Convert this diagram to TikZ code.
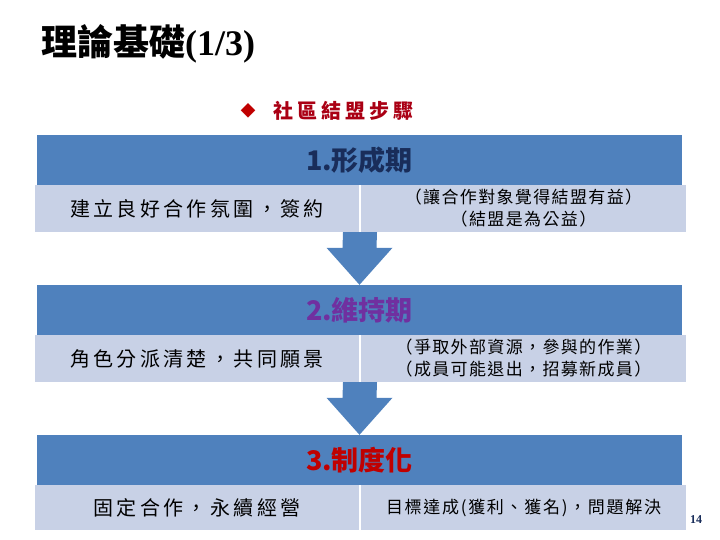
\documentclass[tikz,border=0pt]{standalone}
\usepackage{fontspec}
\usepackage{tikz}
\usetikzlibrary{calc}
\setmainfont{Liberation Serif}
\newfontfamily\cjk{Noto Sans CJK TC}
\definecolor{headBlue}{RGB}{79, 129, 189}
\definecolor{cellBlue}{RGB}{200, 209, 230}
\definecolor{stepNavy}{RGB}{25, 45, 90}
\definecolor{stepPurple}{RGB}{112, 48, 160}
\definecolor{stepRed}{RGB}{192, 0, 0}
\definecolor{subRed}{RGB}{170, 0, 20}

\begin{document}
\begin{tikzpicture}[x=1pt, y=-1pt,
    headbox/.style={fill=headBlue, minimum width=645pt, minimum height=50pt, inner sep=0pt,
      font=\cjk\bfseries\fontsize{27}{30}\selectfont},
    cellbox/.style={fill=cellBlue, minimum height=47pt, inner sep=0pt, align=center},
    bigtext/.style={font=\cjk\fontsize{20}{22}\selectfont\addfontfeature{LetterSpace=17}},
    smalltext/.style={font=\cjk\fontsize{17}{22}\selectfont\addfontfeature{LetterSpace=8}}]
  \useasboundingbox (0,0) rectangle (720,540);
  % Title
  \node[anchor=west, inner sep=0pt] (title) at (41,44)
    {\cjk\bfseries\fontsize{36}{40}\selectfont 理論基礎\rmfamily\bfseries(1/3)};
  \node[text=stepRed, inner sep=0pt, font=\cjk\fontsize{15}{15}\selectfont] (bullet) at (248,111) {◆};
  \node[anchor=west, inner sep=0pt, text=subRed, font=\cjk\bfseries\fontsize{20}{22}\selectfont\addfontfeature{LetterSpace=20}]
    (sub) at (273,111) {社區結盟步驟};

  % Step 1
  \node[headbox, text=stepNavy] (head1) at (359.5,160) {1.形成期};
  \node[cellbox, minimum width=324pt, bigtext] (left1) at (197,208.5) {建立良好合作氛圍，簽約};
  \node[cellbox, minimum width=325pt, smalltext] (right1) at (523.5,208.5)
    {（讓合作對象覺得結盟有益）\\（結盟是為公益）};

  % Step 2
  \node[headbox, text=stepPurple] (head2) at (359.5,310) {2.維持期};
  \node[cellbox, minimum width=324pt, bigtext] (left2) at (197,358.5) {角色分派清楚，共同願景};
  \node[cellbox, minimum width=325pt, smalltext] (right2) at (523.5,358.5)
    {（爭取外部資源，參與的作業）\\（成員可能退出，招募新成員）};

  % Step 3
  \node[headbox, text=stepRed] (head3) at (359.5,460) {3.制度化};
  \node[cellbox, minimum width=324pt, minimum height=45pt, bigtext] (left3) at (197,507.5) {固定合作，永續經營};
  \node[cellbox, minimum width=325pt, minimum height=45pt, smalltext] (right3) at (523.5,507.5)
    {\addfontfeature{LetterSpace=10}目標達成(獲利、獲名)，問題解決};

  % Block arrows
  \foreach \a/\b in {left1/head2, left2/head3} {
    \coordinate (top) at ($(\a.south east)!0.5!(\a.south east -| right1.south west)$);
    \fill[headBlue] ($(top)+(-17,0)$) -- ($(top)+(17,0)$) -- ($(\b.north)+(17,-37)$)
      -- ($(\b.north)+(33,-37)$) -- (\b.north) -- ($(\b.north)+(-33,-37)$)
      -- ($(\b.north)+(-17,-37)$) -- cycle;
  }

  % Page number
  \node[text=stepNavy, font=\bfseries\fontsize{12}{12}\selectfont, inner sep=0pt] (page) at (696,520) {14};
\end{tikzpicture}
\end{document}
